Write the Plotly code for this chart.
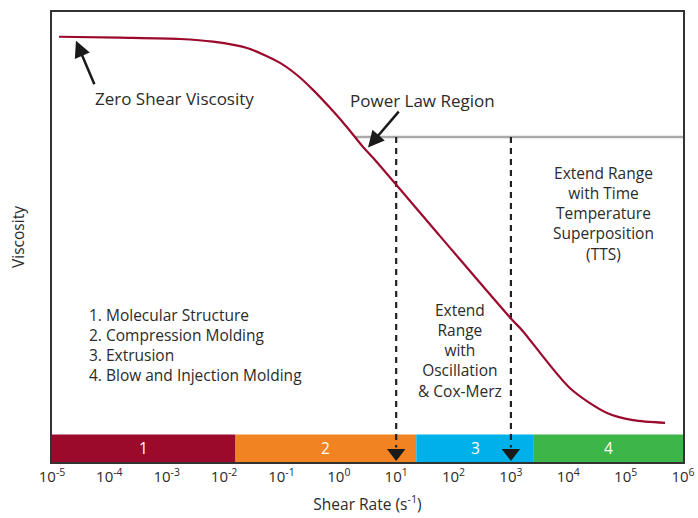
import plotly.graph_objects as go

# ---- data (x = log10 of shear rate, y = viscosity in arbitrary units) ----
curve_log_rate = [-4.878, -3.815, -2.768, -2.193, -1.600, -1.025, -0.729, -0.450,
                  -0.153, 0.143, 0.422, 0.596, 1.764, 3.020, 3.194, 4.031, 4.676,
                  5.129, 5.687]
curve_viscosity = [94.5, 94.3, 94.0, 93.4, 92.0, 88.7, 86.0, 82.7, 78.7, 74.4,
                   70.0, 67.6, 50.2, 31.6, 29.3, 16.4, 10.9, 9.3, 8.7]

tick_exponents = [-5, -4, -3, -2, -1, 0, 1, 2, 3, 4, 5, 6]
tick_labels = ["10<sup>%d</sup>" % e for e in tick_exponents]

band_labels = ["1", "2", "3", "4"]
band_starts = [-5.0, -1.8, 1.35, 3.4]
band_ends = [-1.8, 1.35, 3.4, 6.0]
band_colors = ["#9b0a2b", "#f28322", "#00b1e9", "#3db549"]
band_top = 6.1

power_law_level = 72.2
power_law_start = 0.28
arrow_rates = [1, 3]

applications = ["1. Molecular Structure", "2. Compression Molding",
                "3. Extrusion", "4. Blow and Injection Molding"]

FONT = "Open Sans"
TXT = "#2b2b2b"

fig = go.Figure()

# bands
for lab, x0, x1, c in zip(band_labels, band_starts, band_ends, band_colors):
    fig.add_shape(type="rect", x0=x0, x1=x1, y0=0, y1=band_top, xref="x", yref="y",
                  fillcolor=c, line=dict(width=0), layer="below")
    fig.add_annotation(x=(x0 + x1) / 2, y=band_top / 2, text=lab, showarrow=False,
                       font=dict(family=FONT, size=15.5, color="white"))

# power-law gray line
fig.add_trace(go.Scatter(x=[power_law_start, 6], y=[power_law_level, power_law_level],
                         mode="lines", line=dict(color="#aaaaaa", width=2.5),
                         hoverinfo="skip", showlegend=False))

# dashed arrows
for r in arrow_rates:
    fig.add_trace(go.Scatter(x=[r, r], y=[power_law_level, 3.2], mode="lines",
                             line=dict(color="#222222", width=2.2, dash="6px,5px"),
                             hoverinfo="skip", showlegend=False))
fig.add_trace(go.Scatter(x=arrow_rates, y=[2.0] * len(arrow_rates), mode="markers",
                         marker=dict(symbol="triangle-down", size=16, color="#1a1a1a"),
                         hoverinfo="skip", showlegend=False))

# viscosity curve
fig.add_trace(go.Scatter(x=curve_log_rate, y=curve_viscosity, mode="lines",
                         line=dict(color="#9b0a2d", width=2.2, shape="spline", smoothing=0.8),
                         hoverinfo="skip", showlegend=False))

# arrows with labels
fig.add_annotation(x=-4.582, y=93.6, ax=-4.250, ay=83.6, axref="x", ayref="y",
                   xref="x", yref="y", text="", showarrow=True, arrowhead=2,
                   arrowsize=1.3, arrowwidth=2.5, arrowcolor="#1a1a1a")
fig.add_annotation(x=0.509, y=69.9, ax=1.067, ay=78.2, axref="x", ayref="y",
                   xref="x", yref="y", text="", showarrow=True, arrowhead=2,
                   arrowsize=1.3, arrowwidth=2.5, arrowcolor="#1a1a1a")

fig.add_annotation(x=-4.285, y=80.7, text="Zero Shear Viscosity", showarrow=False,
                   xanchor="left", font=dict(family=FONT, size=17, color=TXT))
fig.add_annotation(x=0.160, y=80.4, text="Power Law Region", showarrow=False,
                   xanchor="left", font=dict(family=FONT, size=17, color=TXT))
fig.add_annotation(x=4.606, y=55.3,
                   text="Extend Range<br>with Time<br>Temperature<br>Superposition<br>(TTS)",
                   showarrow=False, align="center",
                   font=dict(family=FONT, size=15.5, color=TXT))
fig.add_annotation(x=2.113, y=24.8,
                   text="Extend<br>Range<br>with<br>Oscillation<br>& Cox-Merz",
                   showarrow=False, align="center",
                   font=dict(family=FONT, size=15.5, color=TXT))
fig.add_annotation(x=-4.390, y=26.0, text="<br>".join(applications), showarrow=False,
                   xanchor="left", align="left",
                   font=dict(family=FONT, size=15.5, color=TXT))

fig.update_layout(
    width=698, height=518,
    margin=dict(l=52, r=15, t=12, b=56, autoexpand=False),
    paper_bgcolor="white", plot_bgcolor="white",
    font=dict(family=FONT, color=TXT),
    showlegend=False,
    xaxis=dict(range=[-5, 6], tickvals=tick_exponents, ticktext=tick_labels,
               showgrid=False, zeroline=False, ticks="", showline=True, mirror=True,
               linecolor="#333333", linewidth=2, automargin=False,
               tickfont=dict(family=FONT, size=15, color=TXT),
               title=dict(text="Shear Rate (s<sup>-1</sup>)", standoff=14,
                          font=dict(family=FONT, size=15.5, color=TXT))),
    yaxis=dict(range=[0, 100], showticklabels=False, showgrid=False, zeroline=False,
               ticks="", showline=True, mirror=True, linecolor="#333333", linewidth=2,
               automargin=False,
               title=dict(text="Viscosity", standoff=22,
                          font=dict(family=FONT, size=15.5, color=TXT))),
)

# remove the browser's default 8px body margin so the figure fills the window exactly
fig.write_html("out.html", config={"displayModeBar": False},
               post_script="document.body.style.margin='0px';document.body.style.overflow='hidden';")
